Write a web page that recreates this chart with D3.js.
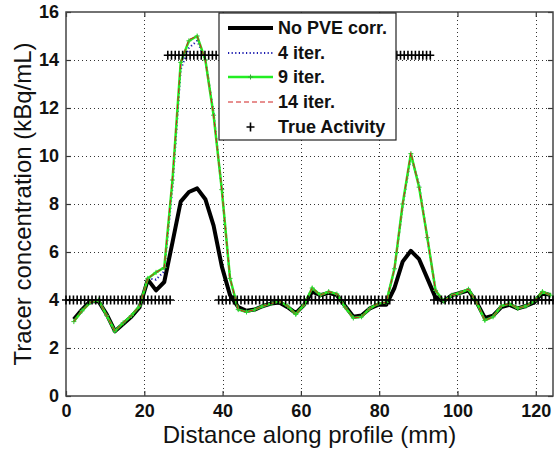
<!DOCTYPE html>
<html><head><meta charset="utf-8">
<script src="https://cdn.jsdelivr.net/npm/d3@7"></script>
<style>html,body{margin:0;padding:0;background:#fff;}svg{display:block;font-family:"Liberation Sans",Arial,sans-serif;}</style>
</head><body>
<script>
const distance = [2.0,4.1,6.2,8.3,10.4,12.5,14.6,16.7,18.8,20.9,23.0,25.1,27.2,29.3,31.4,33.5,35.6,37.7,39.8,41.9,44.0,46.1,48.2,50.3,52.4,54.5,56.6,58.7,60.8,62.9,65.0,67.1,69.2,71.3,73.4,75.5,77.6,79.7,81.8,83.9,86.0,88.1,90.2,92.3,94.4,96.5,98.6,100.7,102.8,104.9,107.0,109.1,111.2,113.3,115.4,117.5,119.6,121.7,123.8];
const noPVE = [3.2,3.6,3.95,3.95,3.4,2.7,3.0,3.3,3.7,4.85,4.4,4.75,6.4,8.1,8.5,8.65,8.2,7.1,5.4,4.2,3.7,3.55,3.6,3.75,3.85,3.9,3.7,3.45,3.8,4.35,4.2,4.3,4.2,3.75,3.3,3.35,3.65,3.8,3.8,4.5,5.6,6.05,5.7,4.9,4.1,3.95,4.2,4.3,4.4,3.9,3.25,3.35,3.7,3.8,3.65,3.75,3.9,4.3,4.2];
const iter4 = [3.1,3.55,3.9,4.0,3.35,2.7,3.05,3.35,3.75,4.9,4.85,5.2,8.7,13.6,14.5,14.8,14.0,11.8,8.6,4.9,3.6,3.5,3.6,3.75,3.85,3.95,3.75,3.4,3.8,4.5,4.2,4.35,4.25,3.7,3.25,3.3,3.65,3.85,3.9,5.3,7.9,10.0,8.8,6.6,4.4,3.95,4.2,4.3,4.45,3.9,3.15,3.3,3.75,3.85,3.65,3.75,3.95,4.35,4.2];
const iter9 = [3.1,3.55,3.9,4.0,3.35,2.7,3.05,3.35,3.75,4.9,5.15,5.35,9.0,13.9,14.8,15.0,14.0,11.7,8.6,4.9,3.6,3.5,3.6,3.75,3.85,3.95,3.75,3.4,3.8,4.5,4.2,4.35,4.25,3.7,3.25,3.3,3.65,3.85,3.9,5.3,8.0,10.1,8.7,6.6,4.4,3.95,4.2,4.3,4.45,3.9,3.15,3.3,3.75,3.85,3.65,3.75,3.95,4.35,4.2];
const iter14 = [3.1,3.55,3.9,4.0,3.35,2.7,3.05,3.35,3.75,4.9,5.15,5.35,9.1,13.9,14.85,15.0,14.0,11.7,8.6,4.9,3.6,3.5,3.6,3.75,3.85,3.95,3.75,3.4,3.8,4.5,4.2,4.35,4.25,3.7,3.25,3.3,3.65,3.85,3.9,5.3,8.0,10.15,8.7,6.6,4.4,3.95,4.2,4.3,4.45,3.9,3.15,3.3,3.75,3.85,3.65,3.75,3.95,4.35,4.2];
// True activity: step levels (start mm, end mm, level kBq/mL), sampled every markerStep mm
const trueStart = [0, 26, 39, 84.5, 94];
const trueEnd   = [27, 39, 83.5, 93.5, 124.4];
const trueLevel = [4, 14.2, 4, 14.2, 4];
const markerStep = 0.95;
const xTicks = [0,20,40,60,80,100,120];
const yTicks = [0,2,4,6,8,10,12,14,16];
const legendLabels = ["No PVE corr.","4 iter.","9 iter.","14 iter.","True Activity"];

const W=554,H=452;
const L=66,R=553,T=12,B=396;
const x=d3.scaleLinear().domain([0,124.4]).range([L,R]);
const y=d3.scaleLinear().domain([0,16]).range([B,T]);
const svg=d3.select("body").append("svg").attr("width",W).attr("height",H);

// grid
const grid=svg.append("g").attr("stroke","#333").attr("stroke-width",1).attr("stroke-dasharray","1,3");
xTicks.filter(v=>v>0).forEach(v=>grid.append("line").attr("x1",Math.round(x(v))+0.5).attr("x2",Math.round(x(v))+0.5).attr("y1",T).attr("y2",B));
yTicks.filter(v=>v>0&&v<16).forEach(v=>grid.append("line").attr("x1",L).attr("x2",R).attr("y1",Math.round(y(v))+0.5).attr("y2",Math.round(y(v))+0.5));

// axes
const axB=svg.append("g").attr("transform",`translate(0,${B})`).call(d3.axisBottom(x).tickValues(xTicks).tickSize(-5).tickPadding(8).tickFormat(d3.format("d")));
const axL=svg.append("g").attr("transform",`translate(${L},0)`).call(d3.axisLeft(y).tickValues(yTicks).tickSize(-5).tickPadding(7).tickFormat(d3.format("d")));
const axT=svg.append("g").attr("transform",`translate(0,${T})`).call(d3.axisTop(x).tickValues(xTicks).tickSize(-5).tickFormat(""));
const axR=svg.append("g").attr("transform",`translate(${R},0)`).call(d3.axisRight(y).tickValues(yTicks).tickSize(-5).tickFormat(""));
[axB,axL,axT,axR].forEach(a=>{a.selectAll("path").remove();a.selectAll("line").attr("stroke","#333").attr("stroke-width",1.2);a.selectAll("text").attr("fill","#111").style("font-size","18px").style("font-weight","bold").style("font-family","'Liberation Sans',Arial,sans-serif");});
svg.append("rect").attr("x",L).attr("y",T).attr("width",R-L).attr("height",B-T).attr("fill","none").attr("stroke","#444").attr("stroke-width",1.5);

// lines
const pts=arr=>distance.map((d,i)=>[d,arr[i]]);
const line=d3.line().x(d=>x(d[0])).y(d=>y(d[1]));
const plotG=svg.append("g");
plotG.append("path").datum(pts(noPVE)).attr("d",line).attr("fill","none").attr("stroke","#000").attr("stroke-width",4).attr("stroke-linejoin","round");
plotG.append("path").datum(pts(iter4)).attr("d",line).attr("fill","none").attr("stroke","#1c1cb0").attr("stroke-width",2).attr("stroke-dasharray","1.2,2.4");
plotG.append("path").datum(pts(iter9)).attr("d",line).attr("fill","none").attr("stroke","#22ee22").attr("stroke-width",2.5);
plotG.selectAll(".gm").data(pts(iter9)).join("path").attr("class","gm")
  .attr("d",d=>`M${x(d[0])-2.5},${y(d[1])}h5M${x(d[0])},${y(d[1])-2.5}v5`).attr("stroke","#33cc33").attr("stroke-width",1);
plotG.append("path").datum(pts(iter14)).attr("d",line).attr("fill","none").attr("stroke","#d02020").attr("stroke-width",1).attr("stroke-dasharray","5,3");

// true activity markers
const truePts=[];
trueStart.forEach((s,i)=>{d3.range(s,trueEnd[i]+1e-6,markerStep).forEach(v=>truePts.push([v,trueLevel[i]]));});
plotG.selectAll(".tm").data(truePts).join("path").attr("class","tm")
  .attr("d",d=>`M${x(d[0])-4},${y(d[1])}h8M${x(d[0])},${y(d[1])-4.5}v9`).attr("stroke","#000").attr("stroke-width",1.6);

// legend
const lg=svg.append("g");
lg.append("rect").attr("x",219).attr("y",13).attr("width",177).attr("height",127).attr("fill","#fff").attr("stroke","#222").attr("stroke-width",1.2);
const rowY=[28,53,77,102,127];
const lx0=228,lx1=273,tx=278;
lg.append("line").attr("x1",lx0).attr("x2",lx1).attr("y1",rowY[0]).attr("y2",rowY[0]).attr("stroke","#000").attr("stroke-width",4);
lg.append("line").attr("x1",lx0).attr("x2",lx1).attr("y1",rowY[1]).attr("y2",rowY[1]).attr("stroke","#1c1cb0").attr("stroke-width",2).attr("stroke-dasharray","1.2,2.4");
lg.append("line").attr("x1",lx0).attr("x2",lx1).attr("y1",rowY[2]).attr("y2",rowY[2]).attr("stroke","#22ee22").attr("stroke-width",2.5);
lg.append("path").attr("d",`M${(lx0+lx1)/2-2.5},${rowY[2]}h5M${(lx0+lx1)/2},${rowY[2]-2.5}v5`).attr("stroke","#33aa33").attr("stroke-width",1);
lg.append("line").attr("x1",lx0).attr("x2",lx1).attr("y1",rowY[3]).attr("y2",rowY[3]).attr("stroke","#d02020").attr("stroke-width",1).attr("stroke-dasharray","5,3");
lg.append("path").attr("d",`M${(lx0+lx1)/2-4},${rowY[4]}h8M${(lx0+lx1)/2},${rowY[4]-4.5}v9`).attr("stroke","#000").attr("stroke-width",1.6);
legendLabels.forEach((t,i)=>lg.append("text").attr("x",tx).attr("y",rowY[i]).attr("dy","0.36em").text(t).attr("fill","#111").style("font-size","18px").style("font-weight","bold"));

// axis titles
svg.append("text").attr("x",(L+R)/2).attr("y",443).attr("text-anchor","middle").style("font-size","24px").attr("fill","#111").text("Distance along profile (mm)");
svg.append("text").attr("transform",`translate(31,${(T+B)/2}) rotate(-90)`).attr("text-anchor","middle").style("font-size","24px").attr("fill","#111").text("Tracer concentration (kBq/mL)");
</script>
</body></html>
